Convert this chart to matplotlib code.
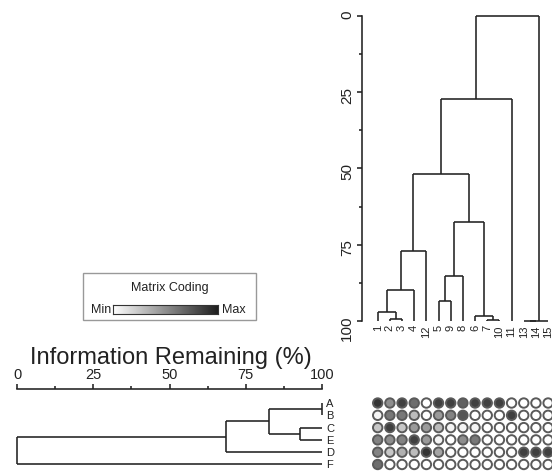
import matplotlib.pyplot as plt
import numpy as np
from matplotlib.colors import LinearSegmentedColormap
from matplotlib.patches import Rectangle

plt.rcParams["font.family"] = ["Liberation Sans", "DejaVu Sans"]

# column (species) dendrogram: leaf order and merges (child, child, % information remaining)
col_order = ["1", "2", "3", "4", "12", "5", "9", "8", "6", "7", "10", "11", "13", "14", "15"]
col_merges = [
    ("2", "3", 99.2),
    ("1", "c0", 97.0),
    ("c1", "4", 89.8),
    ("c2", "12", 77.0),
    ("5", "9", 93.4),
    ("c4", "8", 85.3),
    ("7", "10", 99.7),
    ("6", "c6", 98.4),
    ("c5", "c7", 67.5),
    ("c3", "c8", 51.9),
    ("c9", "11", 27.4),
    ("13", "14", 100.0),
    ("c11", "15", 100.0),
    ("c10", "c12", 0.0),
]

# row (site) dendrogram
row_order = ["A", "B", "C", "E", "D", "F"]
row_merges = [
    ("A", "B", 100.0),
    ("C", "E", 92.9),
    ("r0", "r1", 82.5),
    ("r2", "D", 68.6),
    ("r3", "F", 0.0),
]

# matrix coding (0 = min, 1 = max), rows in row_order, columns in col_order
matrix = np.array([
    [0.90, 0.50, 0.85, 0.65, 0.00, 0.85, 0.85, 0.70, 0.85, 0.85, 0.85, 0.00, 0.00, 0.00, 0.00],
    [0.05, 0.60, 0.60, 0.30, 0.00, 0.45, 0.55, 0.75, 0.00, 0.00, 0.00, 0.85, 0.00, 0.00, 0.00],
    [0.25, 0.85, 0.25, 0.45, 0.45, 0.30, 0.05, 0.05, 0.05, 0.00, 0.00, 0.00, 0.00, 0.00, 0.00],
    [0.55, 0.50, 0.55, 0.85, 0.45, 0.05, 0.00, 0.50, 0.60, 0.00, 0.00, 0.00, 0.00, 0.00, 0.00],
    [0.55, 0.25, 0.35, 0.30, 0.90, 0.40, 0.00, 0.00, 0.00, 0.00, 0.00, 0.00, 0.85, 0.85, 0.85],
    [0.65, 0.00, 0.00, 0.00, 0.00, 0.00, 0.00, 0.00, 0.00, 0.00, 0.00, 0.00, 0.00, 0.00, 0.00],
])

W, H = 552, 471
LINE = "#222222"
cmap = LinearSegmentedColormap.from_list("coding", ["#ffffff", "#1e1e1e"])

fig = plt.figure(figsize=(W / 100, H / 100), dpi=100)


def px_axes(x0, y0, x1, y1):
    return fig.add_axes([x0 / W, 1 - y1 / H, (x1 - x0) / W, (y1 - y0) / H])


def draw_dendro(ax, order, merges, prefix, vertical):
    pos = {lab: i for i, lab in enumerate(order)}
    hgt = {lab: 100.0 for lab in order}
    for k, (a, b, h) in enumerate(merges):
        segs = [([pos[a], pos[a]], [hgt[a], h]),
                ([pos[b], pos[b]], [hgt[b], h]),
                ([pos[a], pos[b]], [h, h])]
        for p, v in segs:
            if vertical:
                ax.plot(p, v, color=LINE, lw=1.15, clip_on=False, solid_capstyle="butt")
            else:
                ax.plot(v, p, color=LINE, lw=1.15, clip_on=False, solid_capstyle="butt")
        node = f"{prefix}{k}"
        pos[node] = (pos[a] + pos[b]) / 2
        hgt[node] = h


xlim = (-1.29, 14.32)
ylim = (5.53, -1.14)

# top: column dendrogram
ax_top = px_axes(362, 15.7, 552, 321)
draw_dendro(ax_top, col_order, col_merges, "c", True)
ax_top.set_xlim(*xlim)
ax_top.set_ylim(100, 0)
for s in ["top", "right", "bottom"]:
    ax_top.spines[s].set_visible(False)
ax_top.spines["left"].set_linewidth(1.15)
ax_top.spines["left"].set_color(LINE)
ax_top.set_yticks([0, 25, 50, 75, 100])
ax_top.set_yticks([12.5, 37.5, 62.5, 87.5], minor=True)
ax_top.tick_params(axis="y", which="both", width=1.15, color=LINE, labelsize=11,
                   labelrotation=90, labelcolor=LINE, pad=2)
ax_top.tick_params(axis="y", which="major", length=3.5)
ax_top.tick_params(axis="y", which="minor", length=2.5)
ax_top.set_xticks(range(len(col_order)))
ax_top.set_xticklabels(col_order, rotation=90)
ax_top.tick_params(axis="x", length=0, labelsize=8, pad=3, labelcolor=LINE)

# bottom left: row dendrogram
ax_row = px_axes(17, 389, 322, 471)
draw_dendro(ax_row, row_order, row_merges, "r", False)
ax_row.set_xlim(0, 100)
ax_row.set_ylim(*ylim)
for s in ["bottom", "left", "right"]:
    ax_row.spines[s].set_visible(False)
ax_row.spines["top"].set_linewidth(1.15)
ax_row.spines["top"].set_color(LINE)
ax_row.xaxis.tick_top()
ax_row.set_xticks([0, 25, 50, 75, 100])
ax_row.set_xticks([12.5, 37.5, 62.5, 87.5], minor=True)
ax_row.tick_params(axis="x", which="both", width=1.15, color=LINE, labelsize=10.5,
                   labelcolor=LINE, pad=1.5)
ax_row.tick_params(axis="x", which="major", length=3.5)
ax_row.tick_params(axis="x", which="minor", length=2.5)
ax_row.yaxis.tick_right()
ax_row.set_yticks(range(len(row_order)))
ax_row.set_yticklabels(row_order)
ax_row.tick_params(axis="y", length=0, labelsize=8, pad=3, labelcolor=LINE)

fig.text(171 / W, 1 - 364 / H, "Information Remaining (%)", fontsize=17,
         ha="center", va="baseline", color=LINE)

# bottom right: matrix
ax_mat = px_axes(362, 389, 552, 471)
xx, yy = np.meshgrid(np.arange(matrix.shape[1]), np.arange(matrix.shape[0]))
ax_mat.scatter(xx.ravel(), yy.ravel(), c=matrix.ravel(), cmap=cmap, vmin=0, vmax=1,
               s=46, edgecolors="#5a5a5a", linewidths=1.4, clip_on=False)
ax_mat.set_xlim(*xlim)
ax_mat.set_ylim(*ylim)
ax_mat.axis("off")

# legend box
fig.add_artist(Rectangle((83 / W, 1 - 320 / H), (256 - 83) / W, (320 - 273) / H,
                         transform=fig.transFigure, fill=False, ec="#999999", lw=1))
fig.text(170 / W, 1 - 288 / H, "Matrix Coding", fontsize=9, ha="center", va="center", color=LINE)
fig.text(111 / W, 1 - 310 / H, "Min", fontsize=9, ha="right", va="center", color=LINE)
fig.text(222 / W, 1 - 310 / H, "Max", fontsize=9, ha="left", va="center", color=LINE)
ax_bar = px_axes(113, 305, 218, 314)
ax_bar.imshow(np.linspace(0, 1, 256)[None, :], aspect="auto", cmap=cmap)
ax_bar.set_xticks([])
ax_bar.set_yticks([])
for sp in ax_bar.spines.values():
    sp.set_linewidth(0.8)
    sp.set_color("#333333")

fig.savefig("out.png", dpi=100)
